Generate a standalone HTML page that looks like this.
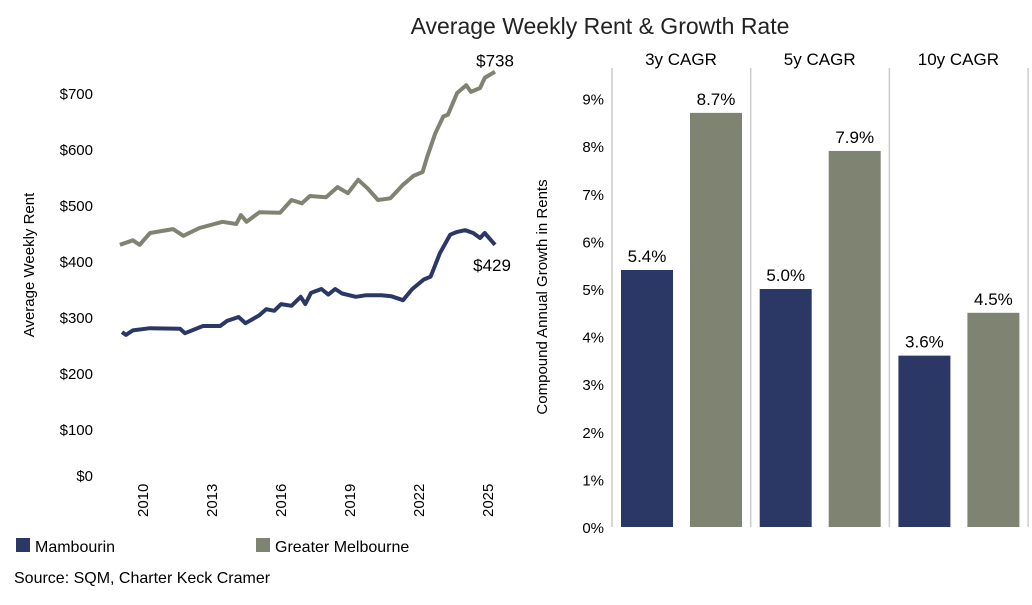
<!DOCTYPE html>
<html><head><meta charset="utf-8"><style>
body{margin:0;background:#fff;font-family:"Liberation Sans",sans-serif;color:#222}
svg text{font-family:"Liberation Sans",sans-serif}
</style></head><body>
<svg width="1032" height="600" viewBox="0 0 1032 600">
<text x="600" y="34" font-size="23" text-anchor="middle" fill="#222">Average Weekly Rent &amp; Growth Rate</text>
<g id="line"></g>
<g id="bars"></g>
<g>
<rect x="16" y="538" width="14" height="14" fill="#2b3866"/>
<text x="35" y="552" font-size="16">Mambourin</text>
<rect x="256" y="538" width="14" height="14" fill="#7f8472"/>
<text x="275" y="552" font-size="16">Greater Melbourne</text>
</g>
<text x="14" y="583" font-size="16">Source: SQM, Charter Keck Cramer</text>
</svg>
<script>
const NS="http://www.w3.org/2000/svg";
const yearTicks=[2010,2013,2016,2019,2022,2025];
const rentTicks=[0,100,200,300,400,500,600,700];
const melbYears=[2009.04,2009.6,2009.9,2010.35,2011.35,2011.8,2012.5,2013.5,2014.1,2014.3,2014.55,2015.1,2016,2016.5,2016.95,2017.3,2018.0,2018.5,2018.95,2019.4,2019.8,2020.26,2020.8,2021.35,2021.8,2022.2,2022.4,2022.75,2023.1,2023.3,2023.7,2024.1,2024.3,2024.7,2024.9,2025.35];
const melbValues=[429,437,429,450,457,445,459,470,466,482,470,487,486,509,503,516,514,532,521,545,530,509,512,536,552,559,586,628,658,661,700,714,702,709,727,738];
const mambYears=[2009.13,2009.3,2009.6,2010.35,2011.65,2011.87,2012.65,2013.4,2013.7,2014.2,2014.5,2015.1,2015.4,2015.75,2016.05,2016.5,2016.9,2017.1,2017.35,2017.8,2018.1,2018.4,2018.7,2019.3,2019.75,2020.4,2020.85,2021.35,2021.75,2022.25,2022.55,2022.95,2023.4,2023.7,2024.05,2024.4,2024.7,2024.9,2025.35];
const mambValues=[273,268,276,280,279,271,284,284,293,300,289,303,314,311,323,320,336,323,343,350,340,350,342,336,339,339,337,330,350,367,372,414,447,452,455,450,441,450,429];
const xL=y=>142+(y-2010)*23;
const yL=v=>485-v*0.56;
function mk(tag,attrs,parent){const e=document.createElementNS(NS,tag);for(const k in attrs)e.setAttribute(k,attrs[k]);parent.appendChild(e);return e;}
const L=document.getElementById('line');
rentTicks.forEach(v=>{const t=mk('text',{x:93,y:Math.min(yL(v),475)+6,'font-size':15,'text-anchor':'end'},L);


t.textContent='$'+v;});
yearTicks.forEach(y=>{const t=mk('text',{transform:`translate(${xL(y)+6},${517}) rotate(-90)`,'font-size':15},L);


t.textContent=y;});
const yt=mk('text',{transform:'translate(34,265) rotate(-90)','font-size':15,'text-anchor':'middle'},L);


yt.textContent='Average Weekly Rent';
function series(ys,vs,col,name){const d=ys.map((y,i)=>(i?'L':'M')+xL(y).toFixed(1)+','+yL(vs[i]).toFixed(1)).join('');
const p=mk('path',{d,fill:'none',stroke:col,'stroke-width':4,'stroke-linejoin':'round'},L);

}
series(melbYears,melbValues,'#7f8472','line-greater-melbourne');
series(mambYears,mambValues,'#2b3866','line-mambourin');
const e1=mk('text',{x:xL(melbYears[melbYears.length-1]),y:yL(melbValues[melbValues.length-1])-5,'font-size':17,'text-anchor':'middle'},L);


e1.textContent='$'+melbValues[melbValues.length-1];
const e2=mk('text',{x:xL(mambYears[mambYears.length-1])-3,y:yL(mambValues[mambValues.length-1])+26,'font-size':17,'text-anchor':'middle'},L);


e2.textContent='$'+mambValues[mambValues.length-1];

const groups=['3y CAGR','5y CAGR','10y CAGR'];
const mambCagr=[5.4,5.0,3.6];
const melbCagr=[8.7,7.9,4.5];
const pctTicks=[0,1,2,3,4,5,6,7,8,9];
const B=document.getElementById('bars');
const yB=v=>527-v*47.6;
const gx=i=>612+i*138.7;
pctTicks.forEach(v=>{const t=mk('text',{x:604,y:yB(v)+6,'font-size':15,'text-anchor':'end'},B);


t.textContent=v+'%';});
const bt=mk('text',{transform:'translate(547,297) rotate(-90)','font-size':15,'text-anchor':'middle'},B);


bt.textContent='Compound Annual Growth in Rents';
for(let i=0;i<=3;i++){const l=mk('line',{x1:gx(i),x2:gx(i),y1:68,y2:527,stroke:'#ccc','stroke-width':1.5},B);

}
groups.forEach((g,i)=>{
const h=mk('text',{x:gx(i)+69,y:65,'font-size':17,'text-anchor':'middle'},B);


h.textContent=g;
[[mambCagr[i],'#2b3866',9,'bar-mambourin'],[melbCagr[i],'#7f8472',78,'bar-greater-melbourne']].forEach(([v,c,off,n])=>{
const r=mk('rect',{x:gx(i)+off,y:yB(v),width:52,height:527-yB(v),fill:c},B);


const t=mk('text',{x:gx(i)+off+26,y:yB(v)-8,'font-size':17,'text-anchor':'middle'},B);


t.textContent=v.toFixed(1)+'%';});
});
</script>
</body></html>
